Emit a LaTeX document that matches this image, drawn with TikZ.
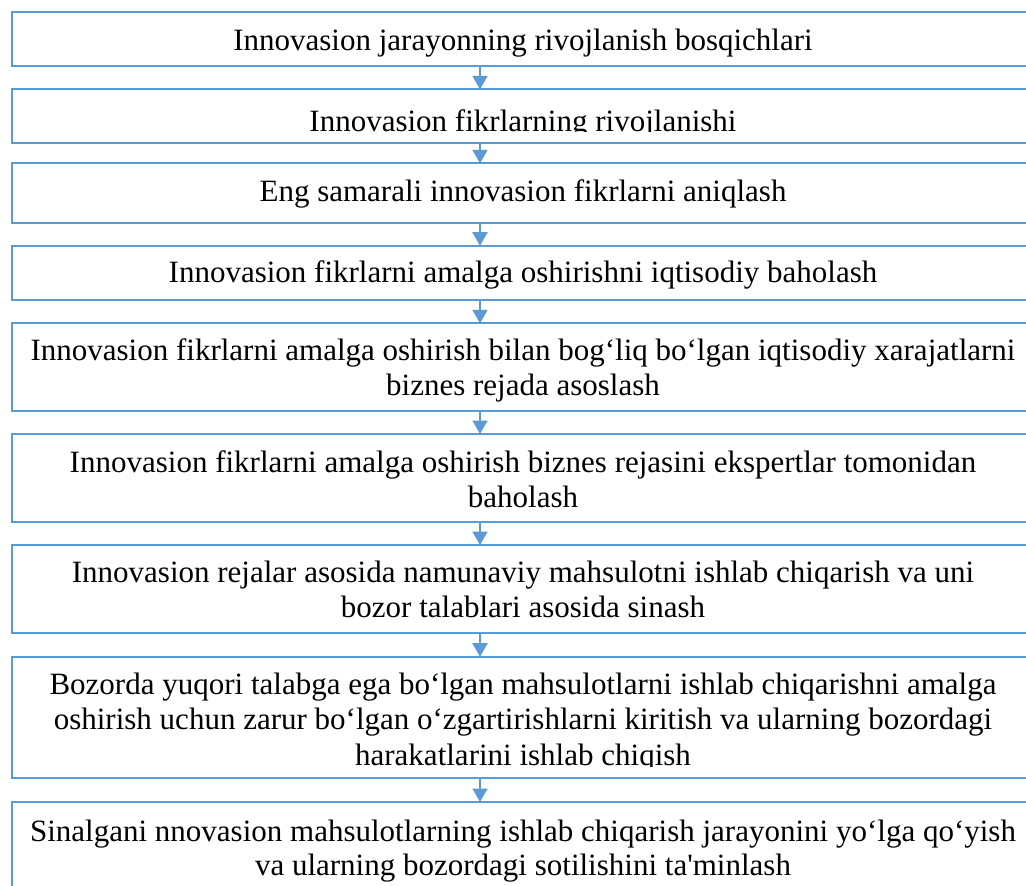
\documentclass[tikz,border=0pt]{standalone}
\usepackage{fontspec}
\setmainfont{Liberation Serif}
\usetikzlibrary{arrows.meta}
\definecolor{bblue}{HTML}{5B9BD5}
\tikzset{
  stage/.style={draw=bblue, line width=2pt, minimum width=1022pt, inner sep=0pt, outer sep=0pt, anchor=north west},
  txt/.style={font=\fontsize{31}{35}\selectfont, anchor=base, inner sep=0pt, outer sep=0pt, text=black},
  flow/.style={draw=bblue, line width=2pt, -{Triangle[width=15pt,length=13.5pt]}}
}
\begin{document}
\begin{tikzpicture}[x=1pt,y=-1pt]
\useasboundingbox (0,0) rectangle (1026,886);
\clip (0,0) rectangle (1026,886);
\fill[white] (0,0) rectangle (1026,886);
\coordinate (ax) at (480,0);
% boxes
\node[stage, minimum height=54.3pt] (b1) at (12,11.7) {};
\node[stage, minimum height=53.4pt] (b2) at (12,89.3) {};
\node[stage, minimum height=59.4pt] (b3) at (12,163.3) {};
\node[stage, minimum height=54.3pt] (b4) at (12,245.7) {};
\node[stage, minimum height=87.7pt] (b5) at (12,323.3) {};
\node[stage, minimum height=87.7pt] (b6) at (12,434) {};
\node[stage, minimum height=87.7pt] (b7) at (12,545) {};
\node[stage, minimum height=121pt] (b8) at (12,656.7) {};
\node[stage, minimum height=110pt] (b9) at (12,802) {};
% texts
\node[txt] (t1) at (523,50.7) {Innovasion jarayonning rivojlanish bosqichlari};
\begin{scope}
  \clip (13,90) rectangle (1033,131.7);
  \node[txt] (t2) at (523,131) {Innovasion fikrlarning rivojlanishi};
\end{scope}
\node[txt] (t3) at (523,201) {Eng samarali innovasion fikrlarni aniqlash};
\node[txt] (t4) at (523,282.5) {Innovasion fikrlarni amalga oshirishni iqtisodiy baholash};
\node[txt] (t5a) at (523,360) {Innovasion fikrlarni amalga oshirish bilan bog‘liq bo‘lgan iqtisodiy xarajatlarni};
\node[txt] (t5b) at (523,395) {biznes rejada asoslash};
\node[txt] (t6a) at (523,472) {Innovasion fikrlarni amalga oshirish biznes rejasini ekspertlar tomonidan};
\node[txt] (t6b) at (523,507) {baholash};
\node[txt] (t7a) at (523,582.5) {Innovasion rejalar asosida namunaviy mahsulotni ishlab chiqarish va uni};
\node[txt] (t7b) at (523,617.5) {bozor talablari asosida sinash};
\node[txt] (t8a) at (523,694) {Bozorda yuqori talabga ega bo‘lgan mahsulotlarni ishlab chiqarishni amalga};
\node[txt] (t8b) at (523,729.5) {oshirish uchun zarur bo‘lgan o‘zgartirishlarni kiritish va ularning bozordagi};
\begin{scope}
  \clip (13,740) rectangle (1033,766.5);
  \node[txt] (t8c) at (523,765) {harakatlarini ishlab chiqish};
\end{scope}
\node[txt] (t9a) at (523,841.5) {Sinalgani nnovasion mahsulotlarning ishlab chiqarish jarayonini yo‘lga qo‘yish};
\node[txt] (t9b) at (523,875.5) {va ularning bozordagi sotilishini ta\textquotesingle minlash};
% arrows
\foreach \a/\b in {b1/b2,b2/b3,b3/b4,b4/b5,b5/b6,b6/b7,b7/b8,b8/b9}
  \draw[flow] (\a.south -| ax) -- (\b.north -| ax);
\end{tikzpicture}
\end{document}
